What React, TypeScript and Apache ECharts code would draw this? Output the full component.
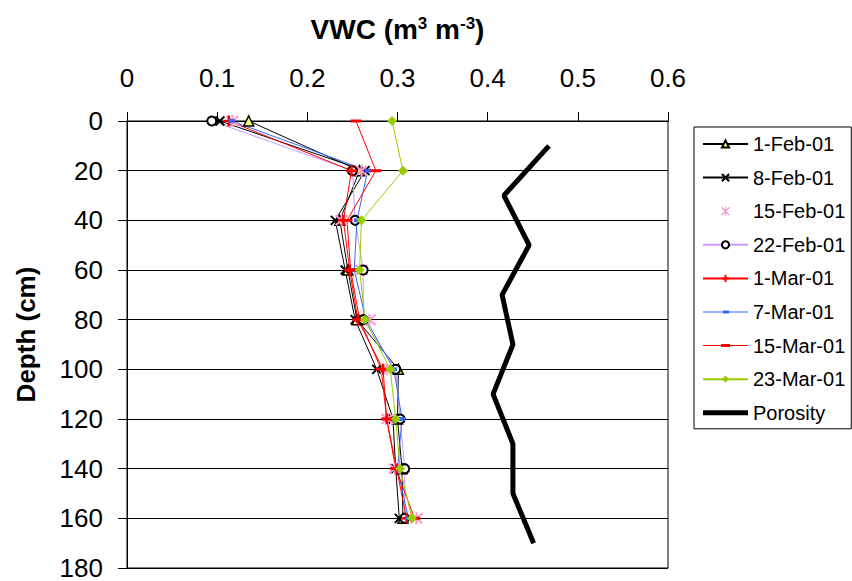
import React, { useEffect, useRef } from "react";
import * as echarts from "echarts";

const depths = [0, 20, 40, 60, 80, 100, 120, 140, 160];
const feb01 = [0.135, 0.258, 0.236, 0.245, 0.255, 0.301, 0.3, 0.305, 0.306];
const feb08 = [0.103, 0.264, 0.231, 0.242, 0.253, 0.277, 0.295, 0.298, 0.302];
const feb15 = [0.117, 0.26, 0.238, 0.26, 0.269, 0.288, 0.289, 0.297, 0.321];
const feb22 = [0.094, 0.25, 0.253, 0.262, 0.262, 0.298, 0.303, 0.308, 0.308];
const mar01 = [0.113, 0.249, 0.24, 0.247, 0.256, 0.284, 0.288, 0.299, 0.31];
const mar07 = [0.116, 0.267, 0.255, 0.252, 0.265, 0.296, 0.305, 0.3, 0.312];
const mar15 = [0.254, 0.276, 0.244, 0.248, 0.258, 0.282, 0.288, 0.298, 0.319];
const mar23 = [0.294, 0.306, 0.26, 0.258, 0.264, 0.292, 0.298, 0.303, 0.316];
const porosityDepths = [10, 30, 50, 70, 90, 110, 130, 150, 170];
const porosity = [0.468, 0.418, 0.446, 0.416, 0.428, 0.406, 0.428, 0.428, 0.451];

const seriesNames = [
  "1-Feb-01",
  "8-Feb-01",
  "15-Feb-01",
  "22-Feb-01",
  "1-Mar-01",
  "7-Mar-01",
  "15-Mar-01",
  "23-Mar-01",
  "Porosity",
];

const FONT = "Liberation Sans, Arial, sans-serif";

const pairs = (xs: number[], ys: number[]) => xs.map((x, i) => [x, ys[i]]);

const X_PATH = "path://M0,0L10,10M10,0L0,10";
const PLUS_PATH = "path://M5,0L5,10M0,5L10,5";
const STAR_PATH = "path://M0,0L10,10M10,0L0,10M5,-1L5,11";

const STAR_ICON =
  "path://M0,6L0.01,6ZM45,6L44.99,6Z" +
  "M21.6,0L23.4,0L23.4,12L21.6,12Z" +
  "M17.64,-0.14L28.64,10.86L27.36,12.14L16.36,1.14Z" +
  "M28.64,1.14L17.64,12.14L16.36,10.86L27.36,-0.14Z";

export default function App() {
  const ref = useRef<HTMLDivElement>(null);

  useEffect(() => {
    if (!ref.current) return;
    const chart = echarts.init(ref.current, undefined, { renderer: "svg" });

    const base = (name: string, vals: number[]) => ({
      name,
      type: "line",
      data: pairs(vals, depths),
      z: 3,
    });

    const option: any = {
      animation: false,
      backgroundColor: "#fff",
      textStyle: { fontFamily: FONT },
      grid: {
        left: 127,
        top: 121,
        width: 541,
        height: 447,
        show: true,
        borderColor: "#000",
        borderWidth: 1,
        backgroundColor: "transparent",
      },
      legend: {
        orient: "vertical",
        left: 694,
        top: 127,
        padding: [7, 6, 6, 8],
        itemWidth: 45,
        itemHeight: 9,
        itemGap: 13.6,
        borderColor: "#000",
        borderWidth: 1,
        backgroundColor: "#fff",
        textStyle: { fontSize: 20, color: "#000", fontFamily: FONT },
        data: [
          "1-Feb-01",
          "8-Feb-01",
          { name: "15-Feb-01", icon: STAR_ICON, itemStyle: { borderWidth: 0 } },
          "22-Feb-01",
          "1-Mar-01",
          {
            name: "7-Mar-01",
            icon: "path://M0,5.5L45,5.5L45,6.5L0,6.5ZM20,4.5L26,4.5L26,7.5L20,7.5Z",
          },
          {
            name: "15-Mar-01",
            icon: "path://M0,5.5L45,5.5L45,6.5L0,6.5ZM18,4.5L27,4.5L27,7.5L18,7.5Z",
          },
          "23-Mar-01",
          { name: "Porosity", icon: "path://M0,3.5L45,3.5L45,8.5L0,8.5Z" },
        ],
      },
      xAxis: {
        type: "value",
        position: "top",
        min: 0,
        max: 0.6,
        interval: 0.1,
        name: "VWC (m{sup|3} m{sup|-3})",
        nameLocation: "middle",
        nameGap: 78,
        nameTextStyle: {
          fontSize: 28,
          fontWeight: "bold",
          color: "#000",
          fontFamily: FONT,
          rich: {
            sup: {
              fontSize: 17,
              fontWeight: "bold",
              color: "#000",
              fontFamily: FONT,
              verticalAlign: "top",
              lineHeight: 16,
            },
          },
        },
        axisLine: { show: true, lineStyle: { color: "#000", width: 1 } },
        axisTick: { show: true, length: 9, lineStyle: { color: "#000" } },
        axisLabel: { fontSize: 26, color: "#000", margin: 30, fontFamily: FONT },
        splitLine: { show: false },
      },
      yAxis: {
        type: "value",
        inverse: true,
        min: 0,
        max: 180,
        interval: 20,
        name: "Depth (cm)",
        nameLocation: "middle",
        nameRotate: 90,
        nameGap: 88,
        nameTextStyle: {
          fontSize: 26,
          fontWeight: "bold",
          color: "#000",
          fontFamily: FONT,
          padding: [0, 0, 0, 20],
        },
        axisLine: { show: true, lineStyle: { color: "#000", width: 1 } },
        axisTick: { show: true, length: 9, lineStyle: { color: "#000" } },
        axisLabel: { fontSize: 26, lineHeight: 24, color: "#000", margin: 24, fontFamily: FONT },
        splitLine: { show: true, lineStyle: { color: "#000", width: 1 } },
      },
      series: [
        {
          ...base(seriesNames[0], feb01),
          symbol: "triangle",
          symbolSize: 10,
          itemStyle: { color: "#ffff80", borderColor: "#000", borderWidth: 1.5 },
          lineStyle: { color: "#000", width: 1 },
        },
        {
          ...base(seriesNames[1], feb08),
          symbol: X_PATH,
          symbolSize: 9,
          itemStyle: { color: "#000", borderColor: "#000", borderWidth: 2 },
          lineStyle: { color: "#000", width: 1 },
        },
        {
          ...base(seriesNames[2], feb15),
          symbol: STAR_PATH,
          symbolSize: 12,
          itemStyle: { color: "#ff99cc", borderColor: "#ff99cc", borderWidth: 2 },
          lineStyle: { color: "#ff99cc", width: 0 },
        },
        {
          ...base(seriesNames[3], feb22),
          symbol: "emptyCircle",
          symbolSize: 9,
          itemStyle: { color: "#000", borderColor: "#000", borderWidth: 2 },
          lineStyle: { color: "#cc99ff", width: 1 },
        },
        {
          ...base(seriesNames[4], mar01),
          symbol: PLUS_PATH,
          symbolSize: 11,
          itemStyle: { color: "#ff0000", borderColor: "#ff0000", borderWidth: 2.5 },
          lineStyle: { color: "#ff0000", width: 1 },
        },
        {
          ...base(seriesNames[5], mar07),
          symbol: "rect",
          symbolSize: [6, 4],
          itemStyle: { color: "#3366ff" },
          lineStyle: { color: "#3366ff", width: 1 },
        },
        {
          ...base(seriesNames[6], mar15),
          symbol: "rect",
          symbolSize: [11, 3],
          itemStyle: { color: "#ff0000" },
          lineStyle: { color: "#ff0000", width: 1 },
        },
        {
          ...base(seriesNames[7], mar23),
          symbol: "diamond",
          symbolSize: 10,
          itemStyle: { color: "#99cc00" },
          lineStyle: { color: "#99cc00", width: 1 },
        },
        {
          name: seriesNames[8],
          type: "line",
          data: pairs(porosity, porosityDepths),
          symbol: "none",
          itemStyle: { color: "#000" },
          lineStyle: { color: "#000", width: 5 },
          z: 2,
        },
      ],
    };

    chart.setOption(option);
    return () => chart.dispose();
  }, []);

  return (
    <div
      ref={ref}
      style={{ position: "fixed", left: 0, top: 0, width: 852, height: 581, background: "#fff" }}
    />
  );
}
